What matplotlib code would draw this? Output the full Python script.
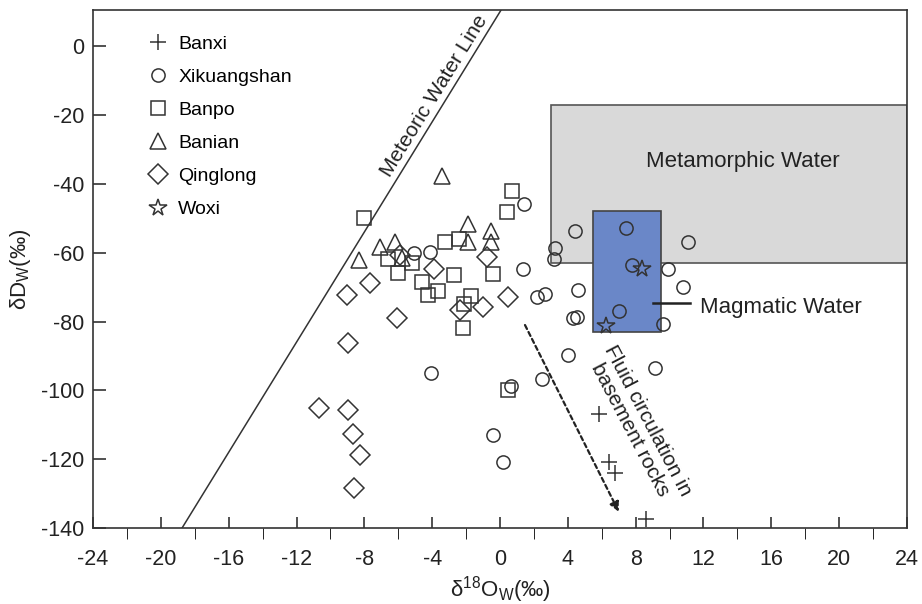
import matplotlib.pyplot as plt
from matplotlib.patches import Rectangle

plt.rcParams['font.family'] = ['Liberation Sans', 'DejaVu Sans']
plt.rcParams['mathtext.fontset'] = 'custom'
plt.rcParams['mathtext.rm'] = 'Liberation Sans'
plt.rcParams['mathtext.it'] = 'Liberation Sans:italic'
plt.rcParams['axes.unicode_minus'] = False

# data (d18O, dD in permil)
banxi_x = [5.84, 6.43, 6.78, 8.6]
banxi_y = [-106.8, -120.8, -124.0, -137.4]

xik_x = [1.4, -4.1, -5.1, 1.35, 2.2, 2.65, 4.4, 3.24, 3.2, 7.43, 7.78, 11.1,
         9.9, 10.8, 4.6, 4.3, 4.55, 7.0, 9.6, 4.0, 9.14, -4.07, 0.65, 2.5,
         -0.41, 0.18]
xik_y = [-46.0, -59.8, -60.0, -64.6, -72.8, -71.9, -53.6, -58.5, -61.7, -52.7,
         -63.5, -56.8, -64.6, -69.9, -70.7, -78.9, -78.6, -76.9, -80.6, -89.7,
         -93.5, -94.9, -98.7, -96.7, -113.0, -120.8]

banpo_x = [-8.0, 0.7, 0.4, -6.6, -6.0, -5.2, -3.24, -2.4, -0.4, -2.7, -4.6,
           -3.66, -4.25, -1.7, -2.1, -2.2, 0.47]
banpo_y = [-49.8, -42.0, -48.3, -61.8, -65.8, -62.9, -57.0, -56.0, -66.2, -66.5,
           -68.4, -71.0, -72.2, -72.6, -74.8, -82.0, -99.9]

banian_x = [-3.4, -8.3, -7.07, -6.2, -5.8, -1.9, -1.9, -0.53, -0.53]
banian_y = [-37.8, -62.0, -58.3, -56.8, -61.5, -51.6, -57.0, -53.6, -56.8]

qing_x = [-7.67, -9.0, -6.07, -8.96, -5.9, -0.77, -3.9, 0.47, -2.36, -1.0,
          -10.67, -8.96, -8.67, -8.25, -8.6]
qing_y = [-68.7, -72.2, -78.9, -86.3, -60.8, -61.4, -64.6, -72.8, -76.6, -75.9,
          -105.1, -105.7, -112.7, -118.8, -128.4]

woxi_x = [8.37, 6.25]
woxi_y = [-64.6, -81.2]

# reference fields
meta_box = (3.0, -63.0, 21.0, 46.0)   # x0, y0, width, height
magma_box = (5.5, -83.0, 4.0, 35.0)
mwl_x = [-30, 10]
mwl_y = [8 * v + 10 for v in mwl_x]

ec = '#333333'
fig = plt.figure(figsize=(9.22, 6.04), dpi=100)
ax = fig.add_axes([0.1009, 0.1258, 0.8828, 0.8576])

ax.add_patch(Rectangle(meta_box[:2], meta_box[2], meta_box[3], facecolor='#d9d9d9',
                       edgecolor='#555555', lw=1.2, zorder=1))
ax.add_patch(Rectangle(magma_box[:2], magma_box[2], magma_box[3], facecolor='#6a87c8',
                       edgecolor='#444444', lw=1.2, zorder=2))
ax.plot(mwl_x, mwl_y, color=ec, lw=1.1, zorder=2)

kw = dict(linestyle='none', markerfacecolor='none', markeredgecolor=ec,
          markeredgewidth=1.1, zorder=3)
ax.plot(banxi_x, banxi_y, marker='+', markersize=11, label='Banxi', **kw)
ax.plot(xik_x, xik_y, marker='o', markersize=9.5, label='Xikuangshan', **kw)
ax.plot(banpo_x, banpo_y, marker='s', markersize=10.5, label='Banpo', **kw)
ax.plot(banian_x, banian_y, marker='^', markersize=12, label='Banian', **kw)
ax.plot(qing_x, qing_y, marker='D', markersize=10, label='Qinglong', **kw)
ax.plot(woxi_x, woxi_y, marker='*', markersize=13, label='Woxi', **kw)

ax.legend(loc='upper left', bbox_to_anchor=(0.0676, 0.952), frameon=False,
          fontsize=14, handlelength=1.0, handletextpad=0.55, labelspacing=0.8,
          borderpad=0, borderaxespad=0)

tc = '#222222'
ax.text(14.3, -33.5, 'Metamorphic Water', fontsize=16, color=tc,
        ha='center', va='center', zorder=4)
ax.plot([9.0, 11.2], [-74.5, -74.5], color='#222222', lw=1.8, zorder=4)
ax.text(11.8, -76.0, 'Magmatic Water', fontsize=16, color=tc,
        ha='left', va='center', zorder=4)
ax.text(-3.4, -16.0, 'Meteoric Water Line', fontsize=15, color=tc,
        rotation=58.3, rotation_mode='anchor', ha='center', va='bottom', zorder=4)
ax.annotate('', xy=(7.08, -136.0), xytext=(1.4, -80.3),
            arrowprops=dict(arrowstyle='-|>', linestyle=(0, (2, 1.5)), color='#222222',
                            lw=1.6, mutation_scale=14), zorder=4)
ax.text(8.2, -110.0, 'Fluid circulation in\nbasement rocks', fontsize=15, color=tc,
        rotation=-62.4, rotation_mode='anchor', ha='center', va='center',
        linespacing=1.05, zorder=4)

ax.set_xlim(-24, 24)
ax.set_ylim(-140, 10.5)
ax.set_xticks(range(-24, 25, 4))
ax.set_xticks(range(-24, 25, 2), minor=True)
ax.set_yticks(range(-140, 1, 20))
ax.tick_params(axis='both', direction='in', labelsize=15.5, colors='#222222',
               width=1.1, length=9)
ax.tick_params(axis='x', which='both', length=8, pad=15)
ax.tick_params(axis='y', pad=6)
for s in ax.spines.values():
    s.set_color('#333333')
    s.set_linewidth(1.2)

ax.set_xlabel('δ$^{18}$O$_{\\mathrm{W}}$(‰)', fontsize=16, color=tc, labelpad=3)
ax.set_ylabel('δD$_{\\mathrm{W}}$(‰)', fontsize=16, color=tc, labelpad=6)

fig.savefig('out.png', dpi=100)
